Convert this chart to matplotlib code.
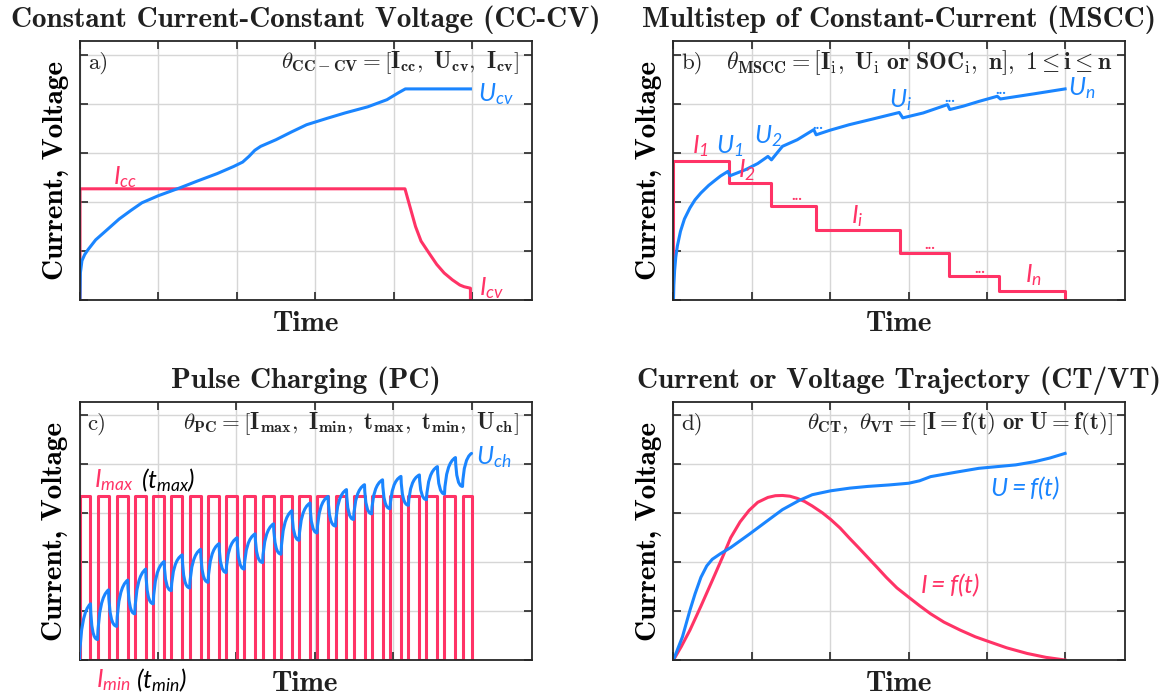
import matplotlib
matplotlib.use("Agg")
import matplotlib.pyplot as plt
from matplotlib.path import Path
from matplotlib.patches import PathPatch

PINK = "#ff3366"
BLUE = "#1a85ff"
DARK = "#262626"

# a) CC-CV
cccv_u_t = [0, 0.001, 0.005, 0.012, 0.02, 0.04, 0.069, 0.10, 0.13, 0.158, 0.20, 0.255,
            0.30, 0.35, 0.392, 0.415, 0.431, 0.446, 0.461, 0.500, 0.54, 0.578, 0.63,
            0.676, 0.734, 0.783, 0.812, 0.830, 0.996]
cccv_u_v = [0, 0.11, 0.16, 0.185, 0.204, 0.245, 0.286, 0.33, 0.365, 0.396, 0.425, 0.457,
            0.485, 0.515, 0.544, 0.562, 0.585, 0.61, 0.626, 0.653, 0.685, 0.714, 0.74,
            0.762, 0.787, 0.816, 0.844, 0.860, 0.860]
cccv_i_t = [0, 0, 0.829, 0.84, 0.856, 0.87, 0.890, 0.91, 0.929, 0.95, 0.969, 0.98, 0.996, 0.996]
cccv_i_v = [0, 0.453, 0.453, 0.39, 0.299, 0.24, 0.192, 0.145, 0.110, 0.082, 0.061, 0.054, 0.048, 0]

# b) MSCC
mscc_step_t = [0, 0, 0.141, 0.248, 0.363, 0.579, 0.702, 0.831, 0.999, 0.999]
mscc_step_i = [0, 0.567, 0.476, 0.381, 0.286, 0.191, 0.098, 0.038, 0.038, 0]
mscc_u_t = [0, 0.001, 0.003, 0.006, 0.01, 0.018, 0.028, 0.042, 0.055, 0.070, 0.09, 0.108,
            0.12, 0.139, 0.144, 0.160, 0.184, 0.215, 0.241, 0.250, 0.278, 0.316, 0.358,
            0.364, 0.40, 0.448, 0.51, 0.576, 0.585, 0.637, 0.699, 0.705, 0.74, 0.779,
            0.826, 0.834, 0.92, 0.999]
mscc_u_v = [0, 0.06, 0.12, 0.175, 0.22, 0.28, 0.33, 0.375, 0.408, 0.436, 0.467, 0.490,
            0.505, 0.524, 0.506, 0.516, 0.531, 0.556, 0.585, 0.571, 0.626, 0.653, 0.694,
            0.673, 0.692, 0.714, 0.738, 0.764, 0.742, 0.762, 0.796, 0.776, 0.790, 0.809,
            0.830, 0.819, 0.840, 0.860]

# c) pulse charging
pulse_on = [0.000, 0.046, 0.095, 0.141, 0.188, 0.234, 0.281, 0.328, 0.374, 0.420, 0.467,
            0.514, 0.560, 0.606, 0.653, 0.699, 0.745, 0.792, 0.839, 0.885, 0.931, 0.977]
pulse_off = [0.028, 0.074, 0.123, 0.169, 0.216, 0.262, 0.309, 0.356, 0.402, 0.448, 0.495,
             0.542, 0.588, 0.634, 0.681, 0.727, 0.773, 0.820, 0.867, 0.913, 0.959, 1.000]
pulse_high = 0.672
pc_peaks = [0.230, 0.287, 0.327, 0.372, 0.403, 0.430, 0.453, 0.476, 0.500, 0.516, 0.557,
            0.611, 0.642, 0.669, 0.697, 0.717, 0.737, 0.751, 0.757, 0.791, 0.828, 0.845]
pc_troughs = [0.084, 0.138, 0.189, 0.230, 0.284, 0.295, 0.318, 0.358, 0.372, 0.399, 0.433,
              0.490, 0.520, 0.548, 0.575, 0.598, 0.619, 0.633, 0.656, 0.679, 0.710]

# d) trajectories
ct_u_t = [0, 0.012, 0.023, 0.042, 0.055, 0.070, 0.085, 0.099, 0.12, 0.146, 0.193, 0.24,
          0.278, 0.32, 0.354, 0.401, 0.45, 0.496, 0.55, 0.600, 0.628, 0.656, 0.72, 0.779,
          0.873, 0.921, 0.96, 0.999]
ct_u_v = [0, 0.05, 0.095, 0.203, 0.27, 0.338, 0.385, 0.412, 0.435, 0.460, 0.514, 0.57,
          0.615, 0.652, 0.676, 0.692, 0.703, 0.710, 0.716, 0.723, 0.733, 0.750, 0.768, 0.784,
          0.798, 0.811, 0.826, 0.845]
ct_i_t = [0, 0.02, 0.042, 0.07, 0.099, 0.125, 0.146, 0.17, 0.193, 0.215, 0.241, 0.26, 0.278,
          0.297, 0.316, 0.335, 0.354, 0.38, 0.401, 0.425, 0.448, 0.472, 0.496, 0.52, 0.543,
          0.57, 0.600, 0.628, 0.656, 0.69, 0.732, 0.77, 0.807, 0.85, 0.902, 0.95, 0.999]
ct_i_v = [0, 0.055, 0.122, 0.22, 0.325, 0.42, 0.50, 0.565, 0.612, 0.645, 0.665, 0.672, 0.673,
          0.670, 0.661, 0.648, 0.630, 0.602, 0.575, 0.540, 0.500, 0.460, 0.419, 0.378, 0.338,
          0.295, 0.257, 0.222, 0.189, 0.155, 0.122, 0.095, 0.074, 0.050, 0.027, 0.011, 0.0]

grid_ticks = [0, 0.2, 0.4, 0.6, 0.8, 1.0]

plt.rcParams['mathtext.fontset'] = 'custom'
plt.rcParams['mathtext.it'] = 'Lato:italic'
plt.rcParams['mathtext.rm'] = 'Lato:italic'
plt.rcParams['mathtext.bf'] = 'Lato:bold'
plt.rcParams['mathtext.sf'] = 'Lato'
plt.rcParams['mathtext.cal'] = 'Lato:italic'

fig = plt.figure(figsize=(11.71, 6.98), dpi=100)


def setup(rect, title, tag, theta, theta_size=16.5):
    ax = fig.add_axes(rect)
    ax.set_xlim(0, 1.153)
    ax.set_ylim(0, 1.055)
    ax.set_xticks(grid_ticks)
    ax.set_yticks(grid_ticks)
    ax.tick_params(direction='in', top=True, right=True, length=6, width=1.2,
                   color=DARK, labelbottom=False, labelleft=False)
    ax.grid(True, color='#d6d6d6', lw=1)
    ax.set_axisbelow(True)
    for s in ax.spines.values():
        s.set_color(DARK)
        s.set_linewidth(1.3)
    ax.set_title(title, fontfamily='cmb10', fontsize=21, color='#202020', pad=10)
    ax.set_xlabel('Time', fontfamily='cmb10', fontsize=21, color='#202020', labelpad=8)
    ax.set_ylabel('Current, Voltage', fontfamily='cmb10', fontsize=21, color='black', labelpad=8)
    ax.text(0.018, 0.915, tag, transform=ax.transAxes, fontfamily='cmr10', fontsize=16.5,
            color=DARK, va='center', ha='left')
    ax.text(0.971, 0.915, theta, transform=ax.transAxes, fontsize=theta_size, color=DARK,
            va='center', ha='right', math_fontfamily='cm')
    return ax


lw = 2.2
lab = dict(fontsize=18)

# a)
ax = setup([0.0683, 0.5702, 0.386, 0.371], 'Constant Current-Constant Voltage (CC-CV)', 'a)',
           r'$\theta_{\mathbf{CC-CV}} = [\mathbf{I}_{\mathbf{cc}},\ \mathbf{U}_{\mathbf{cv}},\ \mathbf{I}_{\mathbf{cv}}]$')
ax.plot(cccv_i_t, cccv_i_v, color=PINK, lw=lw)
ax.plot(cccv_u_t, cccv_u_v, color=BLUE, lw=lw)
ax.text(0.115, 0.50, r'$I_{cc}$', color=PINK, ha='center', va='center', **lab)
ax.text(1.06, 0.84, r'$U_{cv}$', color=BLUE, ha='center', va='center', **lab)
ax.text(1.05, 0.05, r'$I_{cv}$', color=PINK, ha='center', va='center', **lab)

# b)
ax = setup([0.5751, 0.5702, 0.386, 0.371], 'Multistep of Constant-Current (MSCC)', 'b)',
           r'$\theta_{\mathbf{MSCC}} = [\mathbf{I}_{\mathrm{i}},\ \mathbf{U}_{\mathrm{i}}\ \mathbf{or}\ \mathbf{SOC}_{\mathrm{i}},\ \mathbf{n}],\ \mathbf{1} \leq \mathbf{i} \leq \mathbf{n}$',
           theta_size=17)
ax.plot(mscc_step_t, mscc_step_i, color=PINK, lw=lw, drawstyle='steps-post')
ax.plot(mscc_u_t, mscc_u_v, color=BLUE, lw=lw)
for x, y, s, c in [(0.070, 0.626, r'$I_1$', PINK), (0.144, 0.626, r'$U_1$', BLUE),
                   (0.188, 0.531, r'$I_2$', PINK), (0.241, 0.667, r'$U_2$', BLUE),
                   (0.469, 0.340, r'$I_i$', PINK), (0.580, 0.816, r'$U_i$', BLUE),
                   (1.041, 0.864, r'$U_n$', BLUE), (0.918, 0.102, r'$I_n$', PINK)]:
    ax.text(x, y, s, color=c, ha='center', va='center', **lab)
for x, y, c in [(0.368, 0.714, BLUE), (0.705, 0.823, BLUE), (0.835, 0.857, BLUE),
                (0.314, 0.422, PINK), (0.653, 0.224, PINK), (0.781, 0.125, PINK)]:
    ax.text(x, y, '...', color=c, ha='center', va='center', fontsize=11,
            fontweight='bold', fontfamily='Lato')

# c)
ax = setup([0.0679, 0.0544, 0.386, 0.3696], 'Pulse Charging (PC)', 'c)',
           r'$\theta_{\mathbf{PC}} = [\mathbf{I}_{\mathbf{max}},\ \mathbf{I}_{\mathbf{min}},\ \mathbf{t}_{\mathbf{max}},\ \mathbf{t}_{\mathbf{min}},\ \mathbf{U}_{\mathbf{ch}}]$')
px, py = [], []
for on, off in zip(pulse_on, pulse_off):
    px += [on, on, off, off]
    py += [0, pulse_high, pulse_high, 0]
ax.plot(px, py, color=PINK, lw=lw)

verts = [(0, 0)]
codes = [Path.MOVETO]
start = 0.0
for k, (on, off) in enumerate(zip(pulse_on, pulse_off)):
    pk = pc_peaks[k]
    dt = off - on
    verts += [(on + 0.12 * dt, start + 0.85 * (pk - start)), (off, pk)]
    codes += [Path.CURVE3, Path.CURVE3]
    if k < len(pc_troughs):
        tr = pc_troughs[k]
        nxt = pulse_on[k + 1]
        verts += [(off + 0.1 * (nxt - off), tr), (nxt, tr)]
        codes += [Path.CURVE3, Path.CURVE3]
        start = tr
ax.add_patch(PathPatch(Path(verts, codes), fill=False, edgecolor=BLUE, lw=lw,
                       capstyle='round', joinstyle='round', zorder=3))
ax.text(0.037, 0.737, r'$I_{max}$', color=PINK, ha='left', va='center', **lab)
ax.text(0.157, 0.737, r'$(t_{max})$', color='black', ha='left', va='center', **lab)
ax.text(0.042, -0.081, r'$I_{min}$', color=PINK, ha='left', va='center', clip_on=False, **lab)
ax.text(0.144, -0.081, r'$(t_{min})$', color='black', ha='left', va='center', clip_on=False, **lab)
ax.text(1.057, 0.832, r'$U_{ch}$', color=BLUE, ha='center', va='center', **lab)

# d)
ax = setup([0.5751, 0.0544, 0.386, 0.3696], 'Current or Voltage Trajectory (CT/VT)', 'd)',
           r'$\theta_{\mathbf{CT}},\ \theta_{\mathbf{VT}} = [\mathbf{I} = \mathbf{f}(\mathbf{t})\ \mathbf{or}\ \mathbf{U} = \mathbf{f}(\mathbf{t})]$')
ax.plot(ct_i_t, ct_i_v, color=PINK, lw=lw)
ax.plot(ct_u_t, ct_u_v, color=BLUE, lw=lw)
ax.text(0.897, 0.703, r'$U = f(t)$', color=BLUE, ha='center', va='center', **lab)
ax.text(0.704, 0.304, r'$I = f(t)$', color=PINK, ha='center', va='center', **lab)

fig.savefig('out.png', dpi=100)
